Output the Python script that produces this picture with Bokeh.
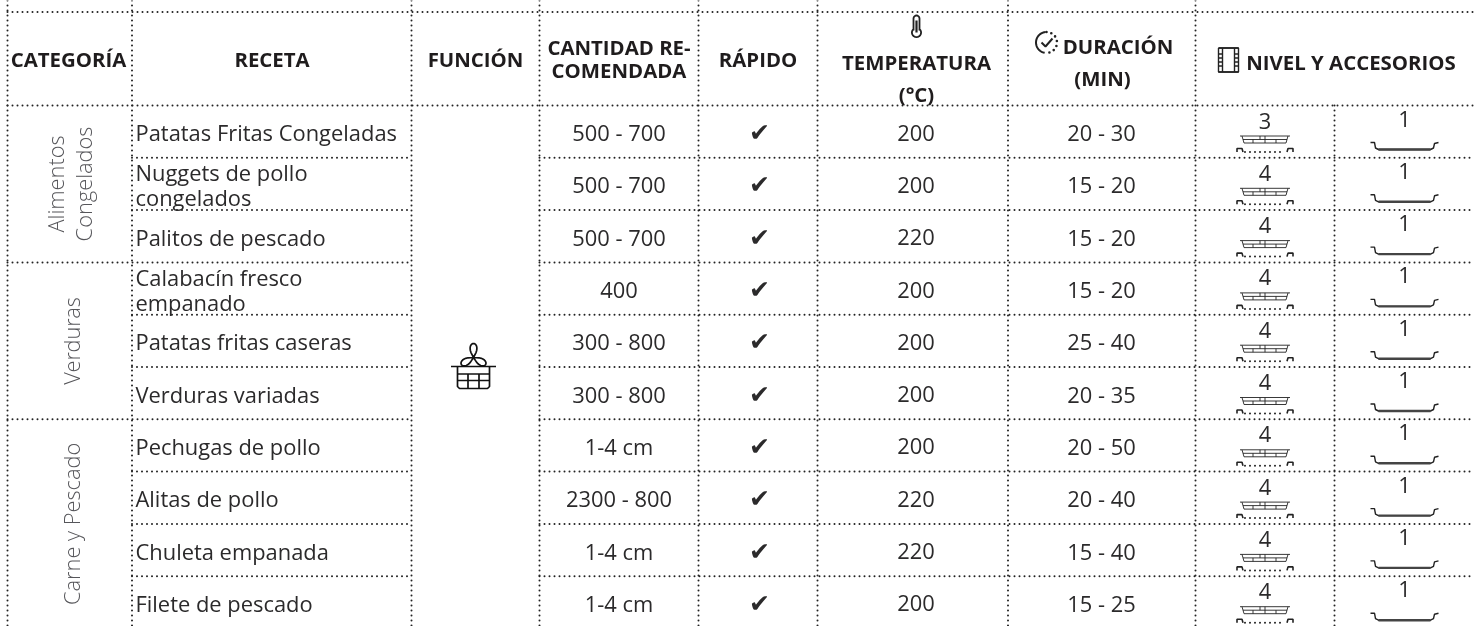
from bokeh.plotting import figure
from bokeh.embed import file_html
from bokeh.resources import INLINE
from bokeh.core.properties import value
import math

# ---- content ----
headers = ["CATEGORÍA", "RECETA", "FUNCIÓN", "CANTIDAD RE-\nCOMENDADA", "RÁPIDO", "TEMPERATURA\n(°C)", "DURACIÓN\n(MIN)", "NIVEL Y ACCESORIOS"]
categories = ["Alimentos\nCongelados", "Verduras", "Carne y Pescado"]
category_rows = [3, 3, 4]
recipes = ["Patatas Fritas Congeladas", "Nuggets de pollo\ncongelados", "Palitos de pescado",
           "Calabacín fresco\nempanado", "Patatas fritas caseras", "Verduras variadas",
           "Pechugas de pollo", "Alitas de pollo", "Chuleta empanada", "Filete de pescado"]
amounts = ["500 - 700", "500 - 700", "500 - 700", "400", "300 - 800", "300 - 800", "1-4 cm", "2300 - 800", "1-4 cm", "1-4 cm"]
fast = ["✔"] * 10
temps = ["200", "200", "220", "200", "200", "200", "200", "220", "220", "200"]
times = ["20 - 30", "15 - 20", "15 - 20", "15 - 20", "25 - 40", "20 - 35", "20 - 50", "20 - 40", "15 - 40", "15 - 25"]
level_a = ["3", "4", "4", "4", "4", "4", "4", "4", "4", "4"]
level_b = ["1"] * 10

# ---- layout (pixels) ----
W, H = 1474, 626
col = [7, 131.5, 411, 539, 698, 817, 1007.5, 1195, 1334, 1474]
y_top, y_head, row_h = 11.5, 105, 52.3
n = len(recipes)
row_y = [y_head + row_h * i for i in range(n + 1)]
INK = "#2b2a2b"
FONT = "Open Sans"
CX_AMOUNT, CX_FAST, CX_TEMP, CX_TIME = 618.5, 759, 915.5, 1101

p = figure(width=W, height=H, x_range=(0, W), y_range=(H, 0), toolbar_location=None,
           output_backend="svg", min_border=0, outline_line_color=None,
           x_axis_type=None, y_axis_type=None,
           styles={"position": "fixed", "left": "0px", "top": "0px"})
p.grid.visible = False

def dotted(xs, ys):
    p.multi_line(xs, ys, line_color="#222222", line_width=2, line_dash="0 5", line_cap="round")

# grid
hx, hy = [[col[0], W], [col[0], W]], [[y_top, y_top], [y_head, y_head]]
bounds = [3, 6]
for i in range(1, n):
    start = col[0] if i in bounds else col[1]
    hx += [[start, col[2]], [col[3], W]]
    hy += [[row_y[i], row_y[i]], [row_y[i], row_y[i]]]
vx = [[col[i], col[i]] for i in range(8)] + [[col[8], col[8]]]
vy = [[0, H]] * 8 + [[y_head, H]]
dotted(hx, hy)
dotted(vx, vy)

def label(x, y, t, size, color=INK, bold=False, align="center", angle=0, font=FONT):
    p.text([x], [y], text=[t], text_font=value(font), text_font_size=f"{size}px",
           text_font_style="bold" if bold else "normal", text_color=color,
           text_align=align, text_baseline="middle", angle=angle)

# header
HS = 20.4
HEAD = "#1f1c1d"
label(68, 58, headers[0], HS, HEAD, True)
label(271.5, 58, headers[1], HS, HEAD, True)
label(475, 58, headers[2], HS, HEAD, True)
a1, a2 = headers[3].split("\n")
label(618.5, 46, a1, HS, HEAD, True)
label(618.5, 69, a2, HS, HEAD, True)
label(757.5, 58, headers[4], HS, HEAD, True)
t1, t2 = headers[5].split("\n")
label(916, 61, t1, HS, HEAD, True)
label(916, 93, t2, HS, HEAD, True)
d1, d2 = headers[6].split("\n")
label(1117.5, 45, d1, HS, HEAD, True)
label(1102, 77, d2, HS, HEAD, True)
label(1350.5, 61, headers[7], HS, HEAD, True)

# category labels (rotated)
cat_x = [[55, 83], [71], [71]]
r = 0
for c, span, xs in zip(categories, category_rows, cat_x):
    cy = row_y[r] + span * row_h / 2
    for line, x in zip(c.split("\n"), xs):
        label(x, cy, line, 21.8, color="#56565a", angle=math.pi / 2, font="Open Sans Light")
    r += span

# body
BS = 21.9
for i in range(n):
    cy = row_y[i] + row_h / 2
    lines = recipes[i].split("\n")
    if len(lines) == 1:
        label(col[1] + 3.5, cy + 1, lines[0], BS, align="left")
    else:
        label(col[1] + 3.5, cy - 11.5, lines[0], BS, align="left")
        label(col[1] + 3.5, cy + 14, lines[1], BS, align="left")
    label(CX_AMOUNT, cy + 1, amounts[i], BS)
    label(CX_FAST, cy + 1, fast[i], 25, font="DejaVu Sans")
    label(CX_TEMP, cy + 1, temps[i], BS)
    label(CX_TIME, cy + 1, times[i], BS)
    label((col[7] + col[8]) / 2, row_y[i] + 15, level_a[i], BS)
    label((col[8] + col[9]) / 2, row_y[i] + 13, level_b[i], BS)

# ---- icons, as polylines relative to an anchor ----
def poly(ax, ay, paths, width=1.0, color="#222222"):
    p.multi_line([[ax + u for u, _ in pth] for pth in paths], [[ay + v for _, v in pth] for pth in paths],
                 line_color=color, line_width=width)

def arc(cx, cy, r, a0, a1, k=24):
    return [(cx + r * math.cos(math.radians(a0 + (a1 - a0) * j / k)),
             cy + r * math.sin(math.radians(a0 + (a1 - a0) * j / k))) for j in range(k + 1)]

def rack(ax, ay):
    poly(ax, ay, [[(-25, 0), (25, 0)],
                  [(-23, 0), (-21, 7), (21, 7), (23, 0)],
                  [(-22, 3.5), (22, 3.5)],
                  [(-5, 0), (-5, 3.5)], [(0, 0), (0, 7)], [(-12, 3.5), (-12, 7)], [(11, 3.5), (11, 7)]], 0.9)
    poly(ax, ay, [[(-28, 16), (-28, 12.5), (-23, 12.5), (-22, 16)], [(28, 16), (28, 12.5), (23, 12.5), (22, 16)]], 1.6)
    p.multi_line([[ax - 20, ax + 20]], [[ay + 16, ay + 16]], line_color="#222222", line_width=2,
                 line_dash="0 5", line_cap="round")

def tray(ax, ay):
    poly(ax, ay, [[(-34, 0), (-30, 0), (-29, 5.5), (-26, 7), (26, 7), (29, 5.5), (30, 1), (34, 0)]], 1.4)
    poly(ax, ay, [[(-26, 7), (26, 7)]], 2.4, "#444444")

for i in range(n):
    rack((col[7] + col[8]) / 2, row_y[i] + 30.5)
    tray((col[8] + col[9]) / 2, row_y[i] + 37)

# thermometer
poly(916, 26, [[(-3, 4), (-3, -8), *arc(0, -8, 3, 180, 360, 8)[1:], (3, 4), *arc(0, 6, 4.6, -50, 230, 16), (-3, 4)]], 1.8)
poly(916, 26, [[(0, -6), (0, 6)]], 2.2)
# clock
poly(1046, 42, [arc(0, 0, 10.5, 100, 265), [(-5, 0), (-1, 4), (6, -4)]], 2)
cd = arc(1046, 42, 10.5, -90, 100)
p.multi_line([[x for x, _ in cd]], [[y for _, y in cd]], line_color="#222222", line_width=2.6,
             line_dash="0 5", line_cap="round")
# level icon
poly(1228, 59.5, [[(-10, -12), (10, -12), (10, 12), (-10, 12), (-10, -12)],
                  [(-10, -12), (10, -12)], [(-10, 12), (10, 12)],
                  [(-6, -12), (-6, 12)], [(6, -12), (6, 12)],
                  [(-10, -6), (-6, -6)], [(-10, -2), (-6, -2)], [(-10, 2), (-6, 2)], [(-10, 6), (-6, 6)],
                  [(6, -6), (10, -6)], [(6, -2), (10, -2)], [(6, 2), (10, 2)], [(6, 6), (10, 6)]], 1.4)
# function icon: three-lobed fan above a basket
fx, fy = 473, 366
poly(fx, fy, [[(-22.5, 0), (-16, 0), (-16, 20), (-14, 22), (14, 22), (16, 20), (16, 0), (22.5, 0)],
              [(-16, 0), (16, 0)], [(-16, 7.5), (16, 7.5)], [(-16, 14), (16, 14)],
              [(-5.5, 7.5), (-5.5, 22)], [(5.5, 7.5), (5.5, 22)]], 1.7, "#111111")
rose = []
for deg in range(0, 181, 3):
    th = math.radians(deg)
    c3 = math.sin(3 * th)
    rad = 14 * abs(c3) ** 0.5 * (1 if c3 >= 0 else -1)
    rose.append((rad * math.cos(th), rad * math.sin(th) - 9))
poly(fx, fy, [rose], 1.7, "#111111")

open("out.html", "w").write(file_html(p, INLINE))
